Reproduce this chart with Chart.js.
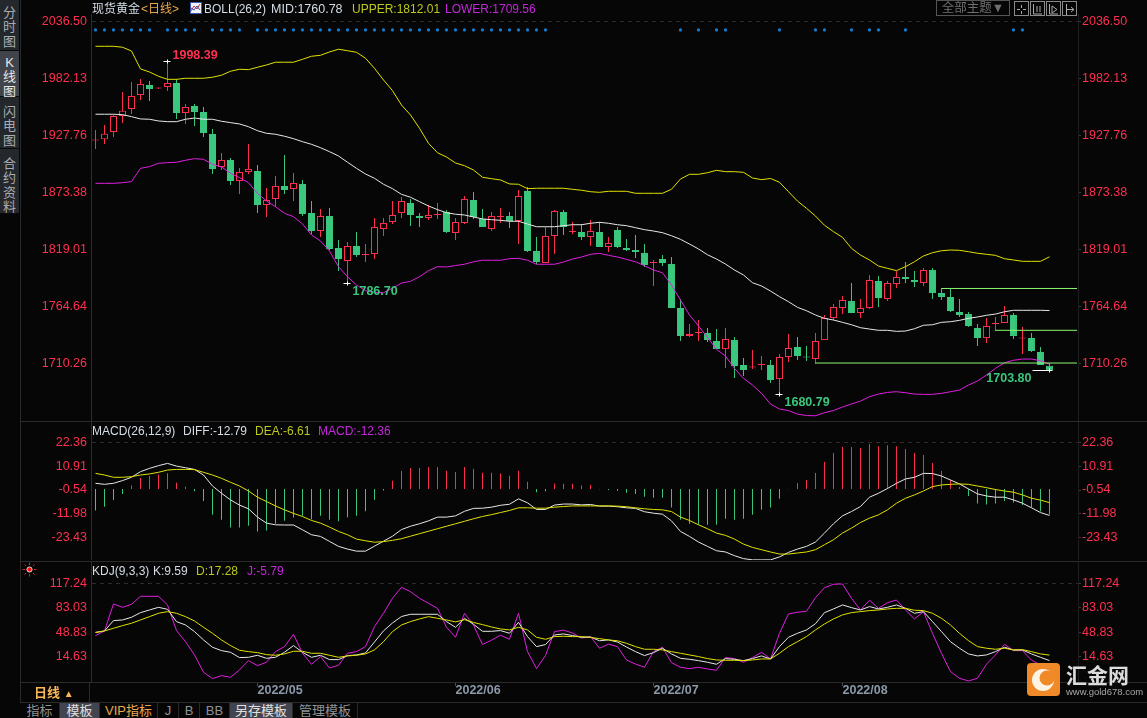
<!DOCTYPE html>
<html>
<head>
<meta charset="utf-8">
<script src="https://cdn.jsdelivr.net/npm/chart.js@4"></script>
<style>
  html, body { margin: 0; padding: 0; background: #060606; }
  #app { position: relative; width: 1147px; height: 718px; overflow: hidden; background: #060606;
         font-family: 'Liberation Sans', 'Noto Sans CJK SC', sans-serif; }
  canvas { position: absolute; left: 0; }
  .t { position: absolute; white-space: pre; font-size: 12px; line-height: 16px; }
  .white { color: #d4dde6; } .yellow { color: #bcc81e; } .magenta { color: #c626dc; }
  .rule { position: absolute; background: #2a2a2a; }
  .side { position: absolute; left: 0; width: 19px; background: #24272c; color: #a8adb4; font-size: 13px;
          line-height: 14.3px; text-align: center; white-space: pre; border-bottom: 1px solid #0a0a0a; box-sizing: border-box; }
  .side.on { background: #41444b; color: #e6e6e6; }
  .tab { position: absolute; top: 703px; height: 15px; line-height: 15px; font-size: 13px; text-align: center;
         color: #8f9296; border-right: 1px solid #2a2a2a; box-sizing: border-box; }
  .tab.on { background: #42454f; color: #e0e0e0; }
  .tool { position: absolute; top: 1px; width: 13px; height: 13px; border: 1px solid #8a8a8a; }
</style>
</head>
<body>
<div id="app">
  <canvas id="chartPrice" width="1147" height="407" style="top:14px"></canvas>
  <canvas id="chartMacd" width="1147" height="138" style="top:422px"></canvas>
  <canvas id="chartKdj" width="1147" height="140" style="top:562px"></canvas>

  <div class="rule" style="left:20px;top:0;width:1px;height:702px"></div>
  <div class="rule" style="left:20px;top:421px;width:1127px;height:1px"></div>
  <div class="rule" style="left:20px;top:561px;width:1127px;height:1px"></div>
  <div class="rule" style="left:20px;top:682px;width:1127px;height:1px"></div>
  <div class="rule" style="left:20px;top:702px;width:1127px;height:1px"></div>
  <div class="rule" style="left:89px;top:682px;width:1px;height:20px"></div>

  <div class="side" style="top:0;height:51px;padding-top:6px">分
时
图</div>
  <div class="side on" style="top:51px;height:46px;padding-top:5px">K
线
图</div>
  <div class="side" style="top:97px;height:52px;padding-top:8px">闪
电
图</div>
  <div class="side" style="top:149px;height:65px;padding-top:8px">合
约
资
料</div>

  <div class="t white" style="left:92px;top:1px;font-size:12px">现货黄金</div>
  <div class="t" style="left:141px;top:1px;font-size:12px;color:#e8a850">&lt;日线&gt;</div>
  <svg style="position:absolute;left:190px;top:2px" width="12" height="13">
    <rect x="0.5" y="0.5" width="11" height="11" fill="#f4f4ff" stroke="#3858b8"></rect>
    <polyline points="1,9 4,4 7,7 10,2" fill="none" stroke="#d03030"></polyline>
    <polyline points="1,6 4,8 7,4 10,8" fill="none" stroke="#3050c0"></polyline>
  </svg>
  <div class="t white" style="left:204px;top:1px">BOLL(26,2)</div>
  <div class="t white" style="left:271px;top:1px;font-size:12.5px">MID:1760.78</div>
  <div class="t yellow" style="left:352px;top:1px">UPPER:1812.01</div>
  <div class="t magenta" style="left:445px;top:1px">LOWER:1709.56</div>

  <div class="t" style="left:936px;top:0;width:72px;height:14px;line-height:14px;font-size:12.5px;color:#6f6f6f;border:1px solid #555;text-align:center">全部主题▼</div>
  <div class="tool" style="left:1014px"><svg width="13" height="13"><path d="M6.5 2V5M6.5 8V11M2 6.5H5M8 6.5H11" stroke="#aaa" fill="none"></path></svg></div>
  <div class="tool" style="left:1030px"><svg width="13" height="13"><path d="M2.5 1V11H11M6 3V9M9 3V9" stroke="#aaa" fill="none"></path></svg></div>
  <div class="tool" style="left:1046px"><svg width="13" height="13"><path d="M2.5 1V11H11M5 3L10 6.5L5 10Z" stroke="#aaa" fill="none"></path></svg></div>
  <div class="tool" style="left:1062px"><svg width="13" height="13"><path d="M3.5 1V12M3.5 6.5H11M8 4L11 6.5L8 9" stroke="#aaa" fill="none"></path></svg></div>

  <div class="t white" style="left:92px;top:423px">MACD(26,12,9)</div>
  <div class="t white" style="left:183px;top:423px">DIFF:-12.79</div>
  <div class="t yellow" style="left:255px;top:423px">DEA:-6.61</div>
  <div class="t magenta" style="left:318px;top:423px">MACD:-12.36</div>

  <svg style="position:absolute;left:22px;top:562px" width="15" height="15">
    <circle cx="7.5" cy="7.5" r="2.6" fill="#ff1010" stroke="#fff" stroke-width="0.8"></circle>
    <path d="M7.5 0.5V3M7.5 12V14.5M0.5 7.5H3M12 7.5H14.5M2.5 2.5L4 4M11 11L12.5 12.5M12.5 2.5L11 4M4 11L2.5 12.5" stroke="#e02020" fill="none"></path>
  </svg>
  <div class="t white" style="left:92px;top:563px">KDJ(9,3,3)</div>
  <div class="t white" style="left:153px;top:563px">K:9.59</div>
  <div class="t yellow" style="left:196px;top:563px">D:17.28</div>
  <div class="t magenta" style="left:247px;top:563px">J:-5.79</div>

  <div class="t" style="left:34px;top:685px;font-size:13px;font-weight:bold;color:#f8b858">日线 <span style="font-size:10px">▲</span></div>

  <div class="tab" style="left:20px;width:40px">指标</div>
  <div class="tab on" style="left:60px;width:40px">模板</div>
  <div class="tab" style="left:100px;width:58px;color:#e8a850">VIP指标</div>
  <div class="tab" style="left:158px;width:21px">J</div>
  <div class="tab" style="left:179px;width:21px">B</div>
  <div class="tab" style="left:200px;width:30px">BB</div>
  <div class="tab on" style="left:230px;width:63px">另存模板</div>
  <div class="tab" style="left:293px;width:65px">管理模板</div>

  <svg style="position:absolute;left:1027px;top:663px" width="33" height="33">
    <rect width="33" height="33" rx="4" fill="#f08a28"></rect>
    <circle cx="16" cy="17" r="11" fill="#fff3e4"></circle>
    <circle cx="20" cy="15" r="7.5" fill="#f08a28"></circle>
  </svg>
  <div class="t" style="left:1066px;top:664px;font-size:21px;line-height:24px;font-weight:bold;color:#dcdcdc">汇金网</div>
  <div class="t" style="left:1066px;top:686px;font-size:9.5px;line-height:12px;color:#a8a8a8">www.gold678.com</div>
</div>

<script>
/* ============================================================
   DATA, one entry per trading day
   ============================================================ */
const opens = [
  1923,1924.1,1931.1,1946.3,1953,1966.4,1975.9,1972.6,1974,1977.8,
  1949.2,1955.9,1950.2,1929.2,1897.7,1904.4,1884.3,1892.9,1893.9,1861.4,
  1867.2,1879.6,1876.7,1881.5,1853.8,1836.6,1850.9,1820.4,1808,1822.3,
  1813.7,1814.7,1838.5,1845.2,1853.8,1863.3,1850.9,1849,1851.9,1854.8,
  1834.7,1844.3,1866.2,1848.1,1838.5,1850,1850.9,1846.2,1874.8,1817.5,
  1806.1,1831.9,1854.8,1835.7,1835.7,1830.9,1835.7,1821.4,1837.6,1820.4,
  1818.5,1815.6,1806.1,1809.9,1805.1,1763.2,1736.5,1739.3,1739.3,1731.7,
  1724,1732.6,1708.8,1706.4,1708.8,1708.8,1695.4,1716.4,1726,1716.9,
  1714.5,1732.6,1753.6,1763.2,1769.8,1758.4,1763.2,1788.9,1771.8,1786.1,
  1792.7,1789.9,1787,1799.4,1777.5,1773.7,1759.4,1757.4,1744.1,1734.5,
  1747.9,1748.9,1756.5,1734,1734.5,1721.2,1708
];
const closes = [
  1923.4,1929.5,1946.3,1951.4,1965.4,1976.9,1972.1,1973,1977.8,1949.2,
  1954.9,1950.2,1930.1,1895.8,1904.4,1884.3,1892.9,1895.8,1861.4,1866.2,
  1879.6,1875.7,1882.4,1852.8,1836.6,1850.9,1819.5,1809.9,1822.3,1813.7,
  1814.7,1840.4,1844.3,1851.9,1865.2,1851.9,1849,1851.9,1852.8,1835.7,
  1845.2,1867.2,1850,1840.4,1850.9,1850.9,1846.2,1870,1817.5,1807,
  1831.9,1855.7,1840.4,1836.6,1830.9,1836.6,1821.4,1825.2,1821.4,1818.5,
  1816.6,1804.2,1807,1806.1,1763.2,1736.5,1738.4,1740.3,1732.6,1724,
  1733.6,1707.8,1704,1706.9,1709.7,1694.5,1716.4,1725,1717.4,1716,
  1731.7,1753.6,1764.1,1770.8,1758.4,1763.2,1789.9,1772.7,1787,1792.7,
  1790.8,1788,1799.4,1777.5,1773.7,1760.3,1756.5,1746,1734.5,1746,
  1748.9,1756.5,1736.5,1735,1722.1,1708.8,1703.9
];
const highs = [
  1933,1937.8,1947.3,1969.2,1978.8,1981.6,1979.7,1973.5,1998.39,1981.6,
  1957.8,1957.8,1954.9,1933.9,1911,1906.3,1896.7,1919.6,1899.6,1877.6,
  1889.1,1909.1,1892,1885.3,1865.2,1857.6,1858.6,1828,1826.1,1835.7,
  1824.2,1849,1849,1865.2,1869.1,1867.2,1853.8,1861.4,1863.3,1856.7,
  1849,1870,1873.8,1857.6,1854.8,1858.6,1854.8,1875.7,1878.6,1830.9,
  1840.4,1856.7,1856.7,1845.2,1843.3,1847.1,1845.2,1830.9,1840.4,1829,
  1832.8,1824.2,1809,1813.7,1811.8,1771.8,1747.9,1751.7,1744.1,1743.1,
  1744.1,1735.5,1715.5,1723.1,1717.4,1713.6,1719.3,1738.4,1735.5,1726.9,
  1739.3,1756.5,1767,1774.6,1787,1771.8,1794.7,1793.7,1788.9,1798.5,
  1807,1798.5,1801.3,1801.3,1782.2,1781.3,1771.8,1759.4,1747.9,1753.6,
  1754.6,1765.1,1758.4,1745,1739.3,1725.9,1710.7
];
const lows = [
  1914.9,1919.6,1926.3,1939.7,1948.2,1961.6,1960.6,1972.1,1970.2,1943.5,
  1938.7,1936.8,1926.3,1891,1894.8,1880.5,1871.9,1891,1853.8,1850,
  1859.5,1871.9,1865.2,1850.9,1833.8,1830.9,1818.5,1798.5,1786.7,1811.8,
  1807,1809.9,1831.9,1843.3,1849,1841.4,1840.4,1847.1,1848.1,1834.7,
  1828,1843.3,1848.1,1840.4,1836.6,1844.3,1839.5,1824.2,1816.6,1805.1,
  1806.1,1814.7,1832.8,1833.8,1828,1822.3,1821.4,1816.6,1820.4,1817.5,
  1810.9,1802.3,1784.2,1803.2,1763.2,1731.7,1735.5,1731.7,1730.7,1724,
  1705.9,1696.4,1698.3,1705,1704,1691.6,1680.79,1711.7,1713.6,1712.6,
  1709.7,1732.6,1751.7,1757.4,1758.4,1753.6,1762.2,1764.1,1769.9,1782.2,
  1787,1783.2,1784.2,1771.8,1770.8,1759.4,1754.6,1745,1726.9,1729.8,
  1741.2,1748.9,1733.6,1719.3,1721.2,1708.8,1703.8
];

const bollMid = [
  1948,1948,1948,1947.6,1945.7,1943.5,1943.2,1941.6,1940.9,1940.9,
  1943.2,1944.4,1943.2,1943.2,1941.3,1940,1938.7,1936.1,1932.3,1929.8,
  1928.9,1927,1924.7,1921.8,1919.3,1916.1,1912.3,1908.2,1902.2,1896.4,
  1891,1886.9,1881.2,1877,1871.6,1868.8,1864.6,1860.5,1857,1854.1,
  1852.6,1851.9,1850,1848.1,1847.4,1846.8,1845.9,1845.9,1843.3,1840.7,
  1840.7,1840.7,1841.7,1842.6,1842.6,1844,1844.9,1844,1842.6,1841.7,
  1839.8,1837.9,1836.6,1835,1832.1,1828.7,1824.2,1819.5,1814,1809.9,
  1805.1,1799.4,1794.7,1787.3,1784.2,1779.4,1774,1769.2,1763.8,1760.6,
  1756.5,1753.3,1751.7,1749.5,1747.2,1744.4,1743.1,1741.9,1741.9,1740.9,
  1741.2,1743.4,1746.7,1747.2,1749.5,1750.1,1751.4,1753.3,1754.6,1756.2,
  1757.4,1759.6,1761,1761,1761,1761,1760.78
];
const bollUpper = [
  2012.8,2012.8,2012.8,2011.9,2008.3,1991.2,1988.3,1984.2,1981.3,1981.3,
  1982.3,1982.3,1982.3,1983.3,1985.2,1989,1990.9,1990.5,1992.8,1995,
  1997.6,1997.6,1997.6,2000.4,2003.3,2004.2,2007.4,2010,2008.6,2007.1,
  2001.4,1991.8,1980.7,1970.5,1956.8,1947.3,1934.6,1920.3,1911.3,1907.2,
  1901.5,1898.9,1894.8,1887.9,1886.5,1885.3,1881.5,1881.2,1877,1877.4,
  1877.4,1877.4,1877.4,1876.4,1875.5,1874.1,1873.5,1874.5,1874.5,1874.5,
  1872.6,1872.6,1872.6,1872.6,1876.4,1886.2,1890.7,1890.7,1892.2,1894.5,
  1893.2,1893.2,1892.6,1887.2,1885.6,1886.7,1883.1,1874.1,1865.2,1858.3,
  1850.9,1842.1,1836,1830.6,1820.1,1813.7,1809,1803.2,1801,1798.8,
  1802.6,1807.3,1812.8,1815.9,1817.8,1818.5,1818.2,1816.9,1815.4,1814.4,
  1813.4,1810.2,1809,1807.7,1807.7,1807.7,1812.01
];
const bollLower = [
  1882.1,1882.1,1882.1,1882.7,1883.7,1896.4,1898,1901.2,1901.8,1902.2,
  1904.1,1905.6,1905,1900.3,1897.7,1891.7,1887.5,1882.7,1872.6,1865.2,
  1859.8,1853.5,1850.3,1843.3,1832.8,1827.1,1817.5,1802.6,1793,1785.1,
  1779.7,1778.1,1777.8,1782,1787,1788.6,1793,1798.8,1802.6,1802.3,
  1803.7,1804.9,1807.3,1808.7,1808.7,1808.7,1810.2,1810.6,1808.7,1804.9,
  1804.9,1804.9,1807,1809.9,1811.8,1814.4,1815.3,1813.4,1811.8,1809.6,
  1807.3,1803.5,1799.4,1796.8,1785.1,1770.8,1756.5,1746,1735.2,1723.8,
  1717.4,1705.6,1696.1,1689.7,1681.8,1671.6,1666.8,1665.4,1662,1660.6,
  1660.4,1663.3,1665.4,1668.7,1671.6,1674.4,1678.6,1681.1,1682.7,1683.3,
  1682.4,1681.1,1680.8,1680.8,1681.8,1683.3,1684.9,1689.7,1693.5,1699.3,
  1705.6,1711,1713.3,1714.5,1714.5,1712.9,1709.56
];

const macdBars = [
  -10.4,-8.6,-5.3,-2.4,1.6,5.3,6.2,6.9,7.5,3,
  1,-1.1,-5.8,-12.5,-14.9,-18.6,-18.6,-17.8,-20.5,-20,
  -16.8,-15.4,-13.8,-13,-14.6,-13,-14.9,-15.6,-13.7,-13,
  -10.8,-5.2,-0.8,3.9,8.6,10.1,10.1,10.6,10.6,8.7,
  8.2,10.6,9.7,7.8,7.8,7.4,6.4,8.8,3.5,-1.6,
  -1.1,2.6,2.5,2.5,1.6,2,-0.2,-0.5,-0.9,-1.8,
  -2.4,-3.8,-4.3,-4.3,-9,-14.9,-16.8,-17.3,-17.3,-17.3,
  -14.4,-14.9,-14.4,-12.5,-10.1,-9,-4.8,-0.2,2.9,4.3,
  7.7,13,17.3,20.2,20.2,19.7,21.6,20.6,21.1,20.6,
  19.2,17.3,16.3,12.5,8.6,4.3,1,-3.4,-7,-7.5,
  -7,-5.8,-6.6,-7.7,-9,-10.9,-12.36
];
const diffLine = [
  2.7,2.2,2.7,4,5.6,8.3,9.9,11.2,12.3,11,
  10.2,9.4,6.7,1.4,-2.1,-5.3,-7.8,-9.6,-13.6,-16.5,
  -17.3,-17.4,-17.4,-19.7,-22.1,-22.9,-25.3,-27.7,-29,-30,
  -30,-27.6,-25.2,-22.8,-19.6,-18,-16.8,-15.4,-13.6,-13.6,
  -13,-10.8,-9.4,-9.3,-8.8,-7.9,-7.4,-4.8,-6.7,-9.9,
  -9.9,-7.8,-7.3,-7.3,-7.7,-7.5,-8.3,-8.3,-8.6,-9.1,
  -9.4,-11,-11.7,-12.2,-15.4,-20.5,-22.9,-25.6,-27.7,-29.8,
  -30.4,-32.2,-33.6,-34.2,-34.2,-34.2,-32.8,-30.6,-29,-27.7,
  -25.6,-21.3,-16.8,-13,-10.9,-8.5,-4,-2.1,0.2,2.7,
  4.8,5.6,7.5,7.4,6.2,4.3,2.4,0,-2.4,-3.4,
  -4,-4,-5.3,-6.9,-9.1,-11.4,-12.79
];
const deaLine = [
  7.5,6.7,5.6,5.6,5.9,6.7,7.2,8,9.1,9.4,
  9.4,9.3,8,6.7,5.1,3.2,1.4,-1,-4,-6.1,
  -8.2,-10.1,-11.8,-13.3,-15.2,-16.5,-18.4,-20.5,-22.1,-24.2,
  -25,-25.7,-25.4,-24.8,-24,-22.8,-21.6,-20.4,-19.2,-18,
  -16.8,-15.6,-14.4,-13.3,-12.4,-11.4,-10.4,-9.1,-9.1,-9.3,
  -9.3,-8.8,-8.5,-8.2,-8.2,-8.2,-8.2,-8.2,-8.3,-8.6,
  -9.1,-9.6,-9.9,-10.1,-10.9,-13.6,-15.2,-17.3,-19.2,-21.3,
  -22.4,-24.2,-26.6,-28.2,-29.3,-30.4,-31.4,-31.4,-30.9,-30.4,
  -29.3,-26.9,-24.5,-21.3,-18.9,-16.2,-14.1,-12.5,-10.1,-6.9,
  -4.5,-2.9,-1,1.1,1.9,2.2,2.4,2.2,1.4,0.6,
  -0.3,-1,-1.6,-2.9,-4.5,-5.4,-6.61
];

const kLine = [
  49,50.9,65.3,66.2,69.9,76.4,80.1,83.8,81,63.9,
  59.2,50,38.4,28.2,23.5,21.2,13.8,14.2,17,12.8,
  14.2,21.2,30.5,21.2,14.2,17,11,11,16.5,17.5,
  20.2,35.5,51,62,71,74.1,74.1,74.1,74.1,63.9,
  56,68.5,60.2,50.4,50.4,51.4,47.7,63,43,29.1,
  31.9,45.3,46.7,44.5,42.1,42.5,37.2,38.4,35.5,28.5,
  22.1,16.6,20.7,26.8,18.9,12.8,11.4,9.6,7.3,4.5,
  12.4,11.4,9.6,12.4,16.1,11.9,29.1,42.1,47.6,52.3,
  61,76.4,81.5,87.1,83.4,80.1,84.8,81.5,83.8,87.1,
  82.4,75.5,77.8,63.9,50,36,26.8,18.9,16.1,17.5,
  22.1,28.2,24.4,24.4,18.9,14.2,9.59
];
const dLine = [
  48.6,50.9,54.6,58.3,61.6,66.2,70.8,75.5,77.8,75.5,
  70.8,64.8,56,47.6,38.4,30.5,24,22.1,20.7,17.9,
  17,18.9,22.6,22.6,19.8,19.8,17,14.2,16.1,17,
  18.9,24.5,36,50,59.2,63.9,67.6,70.8,68.5,66.2,
  63.5,66.6,62.7,59.7,56.4,53.7,52.3,56,52.3,42.1,
  39.3,43,43.5,43,43,41.8,40.2,38.4,37.2,33.7,
  29.1,25.4,25.4,24.5,22.1,19.8,17.5,15.2,12.4,10.5,
  10,10,9.6,10.5,11.9,11.9,19.8,29.1,36,43,
  52.3,60.6,67.6,73.2,76.4,77.8,79.2,80.1,81.5,82.4,
  82.4,79.7,79.2,75.5,68.5,59.2,47.6,37.4,29.1,26.8,
  25.4,26.8,24.4,24.9,22.1,18.9,17.28
];
const jLine = [
  44.4,50.9,88.5,83.8,88,99.1,99.1,99.1,87.1,51.4,
  36,17.5,-6.6,-15.5,-11.3,-13.6,-3.4,9.6,2.6,7.3,
  22.1,29.1,46.2,19.8,4.5,15.2,-0.7,3.1,19.8,22.1,
  29.1,56.9,75.5,96.4,111.7,105.6,96.4,89.4,82.4,56,
  42.1,75.5,59,32,38,44.9,39.3,75.5,22.1,-1.5,
  16.6,50,52,48,41,43,26.8,32.5,29.1,10.5,
  4.8,0.3,22.1,28.2,6.8,0.3,-1.6,0.3,-2,-3.9,
  13.8,12.4,7.3,13.8,21.2,11.9,47.6,74.6,76.9,78.3,
  97.3,111.2,115.9,116.3,96.4,80.1,93.6,82.4,90.3,94,
  80.1,67.6,77.8,47.6,19.8,-5.7,-15,-18.7,-15,4.5,
  17.5,32.3,23.5,23.5,10.2,3.6,-5.79
];

const priceTicks = [2036.50, 1982.13, 1927.76, 1873.38, 1819.01, 1764.64, 1710.26];
const macdTicks = [22.36, 10.91, -0.54, -11.98, -23.43];
const kdjTicks = [117.24, 83.03, 48.83, 14.63];
const monthIndex = [18, 40, 62, 83];
const monthLabels = ['2022/05', '2022/06', '2022/07', '2022/08'];

// blue signal dots along the top of the price pane
const signalDays = [0,1,2,3,4,5,6,8,9,10,11,13,14,15,16,18,19,20,21,22,23,24,25,26,27,28,29,30,31,32,33,
  34,35,36,37,38,39,40,41,42,43,44,45,46,47,48,49,50,65,67,69,70,76,80,81,84,86,87,90,102,103];
const signalLevel = 2028.4;

// light green support lines: first day, price
const supportDays = [94, 100, 80];
const supportPrices = [1781.8, 1741.9, 1710.7];
const lastSlot = 109.06;

const markDays = [8, 28, 76, 106];
const markPrices = [1998.39, 1786.70, 1680.79, 1703.80];
const markTexts = ['1998.39', '1786.70', '1680.79', '1703.80'];

/* ============================================================
   CHARTS
   ============================================================ */
const BG = '#060606';
const RED = '#ff2f4f';
const GREEN = '#3ac77e';
const WHITE = '#e8e8e8';
const YELLOW = '#e2e200';
const MAGENTA = '#e020e0';
const FONT = "'Liberation Sans', sans-serif";
const LEFT_W = 91;
const RIGHT_W = 69;

const xy = series => series.map((v, i) => ({ x: i, y: v }));

function lineSet(series, color) {
  return { type: 'line', data: xy(series), borderColor: color, borderWidth: 1, pointRadius: 0, tension: 0, order: 1 };
}

function yAxes(min, max, ticks) {
  const common = {
    min, max, beginAtZero: false,
    afterBuildTicks: s => { s.ticks = ticks.map(v => ({ value: v })); },
  };
  const labels = {
    color: RED, autoSkip: false, font: { family: FONT, size: 12.5 }, callback: v => v.toFixed(2),
  };
  return {
    y: {
      ...common, position: 'left',
      afterFit: s => { s.width = LEFT_W; s.paddingTop = 0; s.paddingBottom = 0; },
      grid: { drawTicks: false, lineWidth: 1, color: c => (c.tick && c.tick.value === ticks[0] ? '#2c2c2c' : 'transparent') },
      border: { color: '#2e2e2e', dash: [4, 4] },
      ticks: { ...labels, padding: 4 },
    },
    yr: {
      ...common, position: 'right',
      afterFit: s => { s.width = RIGHT_W; s.paddingTop = 0; s.paddingBottom = 0; },
      grid: { drawOnChartArea: false, drawTicks: true, tickLength: 3, tickColor: '#3a3a3a' },
      border: { color: '#1e1e1e' },
      ticks: { ...labels, padding: 1 },
    },
  };
}

function xAxis(showLabels) {
  return {
    type: 'linear', offset: false, min: -0.5, max: 109.17, display: showLabels,
    afterBuildTicks: s => { s.ticks = monthIndex.map(v => ({ value: v })); },
    afterFit: s => { s.height = showLabels ? 20 : 0; s.paddingLeft = 0; s.paddingRight = 0; },
    grid: { offset: false, drawOnChartArea: false, tickLength: 4, tickColor: '#4a4a4a' },
    border: { display: false },
    ticks: {
      autoSkip: false, maxRotation: 0, align: 'start', padding: -3, color: '#8a98a8',
      font: { family: FONT, size: 12.5, weight: 'bold' },
      callback: v => monthLabels[monthIndex.indexOf(v)],
    },
  };
}

function chartDefaults() {
  return {
    responsive: false, animation: false, events: [],
    layout: { padding: 0, autoPadding: false },
    plugins: { legend: { display: false }, tooltip: { enabled: false } },
  };
}

// high/low crosses and their price labels, placed from the scales
const markPlugin = {
  id: 'marks',
  afterDatasetsDraw(chart) {
    const { ctx, scales } = chart;
    const dx = [5, 5, 5, -18];
    const dy = [-6, 8, 8, 8];
    const tick = [4, 4, 4, 17];
    ctx.save();
    ctx.font = "bold 12.5px " + FONT;
    ctx.textBaseline = 'middle';
    markDays.forEach((d, i) => {
      const x = Math.round(scales.x.getPixelForValue(d)) + 0.5;
      const y = Math.round(scales.y.getPixelForValue(markPrices[i])) + 0.5;
      ctx.strokeStyle = '#ffffff';
      ctx.lineWidth = 1;
      ctx.beginPath();
      ctx.moveTo(x - tick[i], y); ctx.lineTo(x + 3, y);
      ctx.moveTo(x, y - 2); ctx.lineTo(x, y + 2);
      ctx.stroke();
      ctx.fillStyle = i === 0 ? RED : GREEN;
      ctx.textAlign = dx[i] < 0 ? 'right' : 'left';
      ctx.fillText(markTexts[i], x + dx[i], y + dy[i]);
    });
    ctx.restore();
  },
};

function renderPrice() {
  const up = opens.map((o, i) => closes[i] >= o);
  const wicks = {
    type: 'bar', grouped: false, order: 3, barThickness: 1, minBarLength: 1, inflateAmount: 0,
    data: highs.map((h, i) => ({ x: i, y: [lows[i], h] })),
    backgroundColor: up.map(u => (u ? RED : GREEN)), borderWidth: 0,
  };
  const bodies = {
    type: 'bar', grouped: false, order: 2, barThickness: 7, minBarLength: 1, inflateAmount: 0,
    data: opens.map((o, i) => ({ x: i, y: [o, closes[i]] })),
    backgroundColor: up.map(u => (u ? BG : GREEN)),
    borderColor: up.map(u => (u ? RED : GREEN)), borderWidth: 1, borderSkipped: false,
  };
  const dots = {
    type: 'line', showLine: false, order: 1, pointRadius: 1.6, pointBorderWidth: 0, pointBackgroundColor: '#1380d6',
    data: signalDays.map(d => ({ x: d, y: signalLevel })),
  };
  const supports = supportDays.map((d, i) => ({
    type: 'line', order: 1, borderColor: '#8cf870', borderWidth: 1, pointRadius: 0,
    data: [{ x: d, y: supportPrices[i] }, { x: lastSlot, y: supportPrices[i] }],
  }));
  new Chart(document.getElementById('chartPrice'), {
    type: 'bar',
    data: {
      datasets: [wicks, bodies, dots, ...supports,
        lineSet(bollUpper, YELLOW), lineSet(bollMid, WHITE), lineSet(bollLower, MAGENTA)],
    },
    options: {
      ...chartDefaults(),
      scales: { x: xAxis(false), ...yAxes(1655.4, 2043.6, priceTicks) },
    },
    plugins: [markPlugin],
  });
}

function renderMacd() {
  new Chart(document.getElementById('chartMacd'), {
    type: 'bar',
    data: {
      datasets: [
        {
          type: 'bar', grouped: false, order: 2, barThickness: 1, inflateAmount: 0, borderWidth: 0,
          data: xy(macdBars), backgroundColor: macdBars.map(v => (v >= 0 ? RED : GREEN)),
        },
        lineSet(deaLine, YELLOW), lineSet(diffLine, WHITE),
      ],
    },
    options: {
      ...chartDefaults(),
      scales: { x: xAxis(false), ...yAxes(-34.27, 32.25, macdTicks) },
    },
  });
}

function renderKdj() {
  new Chart(document.getElementById('chartKdj'), {
    type: 'line',
    data: { datasets: [lineSet(dLine, YELLOW), lineSet(kLine, WHITE), lineSet(jLine, MAGENTA)] },
    options: {
      ...chartDefaults(),
      scales: { x: xAxis(true), ...yAxes(-20.2, 146.9, kdjTicks) },
    },
  });
}

renderPrice();
renderMacd();
renderKdj();
</script>
</body>
</html>
